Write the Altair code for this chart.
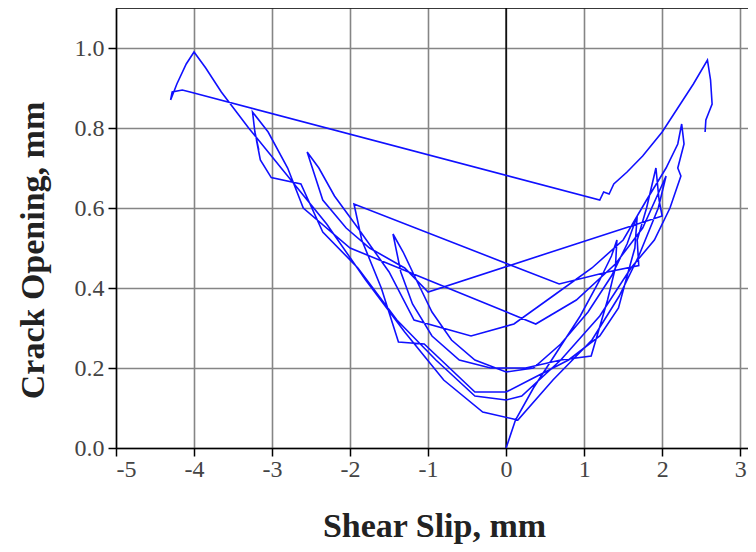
import altair as alt
import pandas as pd

# ---- data (shear slip mm, crack opening mm), in loading order ----
slip_a = [0.00, 0.12, 0.35, 0.65, 0.95, 1.20, 1.35, 1.42,
          1.40, 1.30, 1.09, 0.70, 0.25, -0.20,
          -0.60, -0.95, -1.20, -1.35, -1.45,
          -1.32, -1.15, -0.95, -0.70, -0.40, 0.00, 0.35]
open_a = [0.00, 0.07, 0.15, 0.24, 0.33, 0.42, 0.48, 0.52,
          0.45, 0.37, 0.23, 0.22, 0.20, 0.20,
          0.22, 0.28, 0.36, 0.44, 0.535,
          0.49, 0.42, 0.34, 0.27, 0.22, 0.19, 0.20]

slip_b = [0.70, 1.05, 1.35, 1.55, 1.68,
          1.65, 1.55, 1.44, 1.20, 0.80, 0.30, 0.00, -0.40,
          -1.05, -1.38, -1.60, -1.85, -1.95,
          0.68, 1.30, 1.70, 1.68, 1.80, 1.92, 1.96, 2.00]
open_b = [0.26, 0.34, 0.43, 0.51, 0.58,
          0.50, 0.43, 0.35, 0.28, 0.22, 0.17, 0.14, 0.14,
          0.26, 0.265, 0.40, 0.52, 0.61,
          0.41, 0.44, 0.456, 0.52, 0.60, 0.70, 0.62, 0.58]

slip_c = [-1.00, -1.30, -1.75, -2.05, -2.35, -2.55,
          -2.40, -2.20, -1.90, -1.50, -1.18, -0.45, 0.10, 0.60, 1.10, 1.50, 1.80, 2.05, 2.20, 2.25,
          2.28, 2.20, 2.24, 2.10, 1.90, 1.60, 1.20, 0.70, 0.20, 0.00, -0.40, -0.90, -1.40, -1.90,
          -2.35, -2.63, -3.01, -3.15, -3.20, -3.17, -3.22, -3.25]
open_c = [0.39, 0.45, 0.50, 0.55, 0.62, 0.74,
          0.70, 0.63, 0.55, 0.44, 0.32, 0.28, 0.31, 0.38, 0.45, 0.52, 0.62, 0.70, 0.76, 0.81,
          0.76, 0.70, 0.68, 0.60, 0.52, 0.45, 0.33, 0.22, 0.13, 0.12, 0.13, 0.22, 0.32, 0.45,
          0.54, 0.66, 0.676, 0.72, 0.77, 0.745, 0.79, 0.84]

slip_d = [-3.05, -2.80, -2.60, -2.00, -1.00, 0.38, 0.90, 1.40, 1.75, 2.05,
          1.95, 1.70, 1.45, 1.10, 0.60, 0.15, -0.30, -0.80, -1.30, -1.80, -2.30, -2.80,
          -3.30, -3.65, -3.85, -4.00, -4.10, -4.22, -4.30, -4.28, -4.15, -4.05,
          1.20, 1.25, 1.32, 1.38, 1.55, 1.75, 2.00, 2.20, 2.40, 2.58,
          2.62, 2.64, 2.60, 2.56, 2.55]
open_d = [0.79, 0.70, 0.60, 0.50, 0.42, 0.31, 0.37, 0.46, 0.55, 0.68,
          0.60, 0.48, 0.38, 0.27, 0.17, 0.07, 0.09, 0.17, 0.29, 0.42, 0.56, 0.68,
          0.80, 0.89, 0.95, 0.99, 0.96, 0.91, 0.87, 0.89, 0.895, 0.89,
          0.62, 0.64, 0.635, 0.66, 0.69, 0.73, 0.79, 0.85, 0.91, 0.97,
          0.92, 0.86, 0.84, 0.82, 0.79]

x_ticks = [-5, -4, -3, -2, -1, 0, 1, 2, 3]
y_ticks = [0.0, 0.2, 0.4, 0.6, 0.8, 1.0]

slip = slip_a + slip_b + slip_c + slip_d
opening = open_a + open_b + open_c + open_d
df = pd.DataFrame({"slip": slip, "opening": opening, "i": list(range(len(slip)))})

FONT = "Liberation Serif"

xs = alt.Scale(domain=[-5, 3.1], nice=False, zero=False)
ys = alt.Scale(domain=[0, 1.1], nice=False)

curve = alt.Chart(df).mark_line(color="#1010ff", strokeWidth=1.6, clip=True).encode(
    x=alt.X("slip:Q", scale=xs, axis=alt.Axis(
        values=x_ticks, title="Shear Slip, mm",
        labelExpr="'' + datum.value",
        grid=True, gridColor="#858585", gridWidth=1.6,
        domainColor="black", domainWidth=1.5, tickColor="black", tickWidth=1.5, tickSize=8,
        labelFont=FONT, labelFontSize=24, labelColor="#444444", labelPadding=1,
        titleFont=FONT, titleFontSize=34, titleFontWeight="bold", titleColor="#222222",
        titleX=318, titleY=78, titleBaseline="middle", titleAlign="center")),
    y=alt.Y("opening:Q", scale=ys, axis=alt.Axis(
        values=y_ticks, title="Crack Opening, mm", format=".1f",
        grid=True, gridColor="#858585", gridWidth=1.6,
        domainColor="black", domainWidth=1.5, tickColor="black", tickWidth=1.5, tickSize=8,
        labelFont=FONT, labelFontSize=24, labelColor="#444444", labelPadding=4,
        titleFont=FONT, titleFontSize=34, titleFontWeight="bold", titleColor="#222222",
        titleX=-83, titleY=242, titleAngle=270, titleBaseline="middle", titleAlign="center")),
    order="i:Q",
)

zero_line = alt.Chart(pd.DataFrame({"x": [0]})).mark_rule(color="black", strokeWidth=1.5).encode(
    x=alt.X("x:Q", scale=xs)
)
top_line = alt.Chart(pd.DataFrame({"y": [1.1]})).mark_rule(color="black", strokeWidth=1.5).encode(
    y=alt.Y("y:Q", scale=ys)
)

chart = alt.layer(zero_line, top_line, curve).properties(
    width=632, height=440,
    autosize=alt.AutoSizeParams(type="none"),
    padding={"left": 108, "top": 0, "right": 0, "bottom": 104},
).configure_view(stroke=None).configure(background="white")

chart.save("out.html", embed_options={"renderer": "svg", "actions": False})
